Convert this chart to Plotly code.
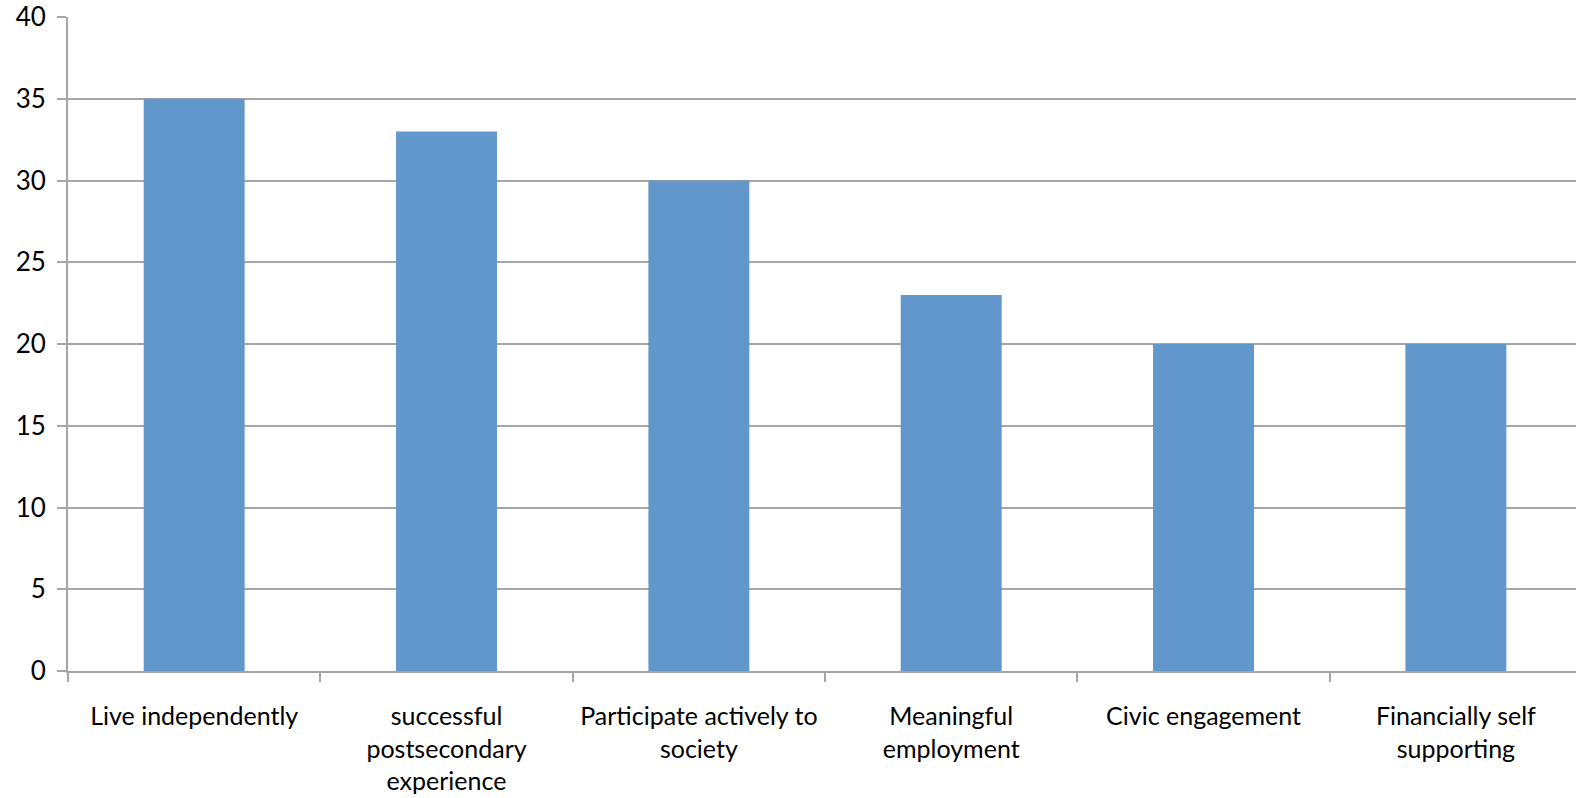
import plotly.graph_objects as go

categories = ["Live independently", "successful<br>postsecondary<br>experience",
              "Participate actively to<br>society", "Meaningful<br>employment",
              "Civic engagement", "Financially self<br>supporting"]
values = [35, 33, 30, 23, 20, 20]
y_ticks = [0, 5, 10, 15, 20, 25, 30, 35, 40]

fig = go.Figure(go.Bar(x=categories, y=values, marker_color="#6197CA",
                       marker_line_width=0))

fig.update_layout(
    width=1576, height=798,
    margin=dict(l=68, r=0, t=17, b=127),
    paper_bgcolor="white", plot_bgcolor="white",
    bargap=0.6, showlegend=False,
    font=dict(family="Lato, Carlito, sans-serif", size=25, color="black"),
)
fig.update_xaxes(
    range=[-0.5, 5.476], type="category", tickson="boundaries",
    ticks="outside", ticklen=9, tickwidth=2, tickcolor="#a6a6a6",
    showline=True, linecolor="#a6a6a6", linewidth=2,
    showgrid=False, ticklabelstandoff=22, tickfont=dict(size=25),
)
fig.update_yaxes(
    range=[0, 40], tickvals=y_ticks, ticks="outside", ticklen=9,
    tickwidth=2, tickcolor="#a6a6a6", showline=True, linecolor="#a6a6a6",
    linewidth=2, showgrid=True, gridcolor="#a6a6a6", gridwidth=2,
    zeroline=False, ticklabelstandoff=6, tickfont=dict(size=26),
)
fig.write_html("out.html")
